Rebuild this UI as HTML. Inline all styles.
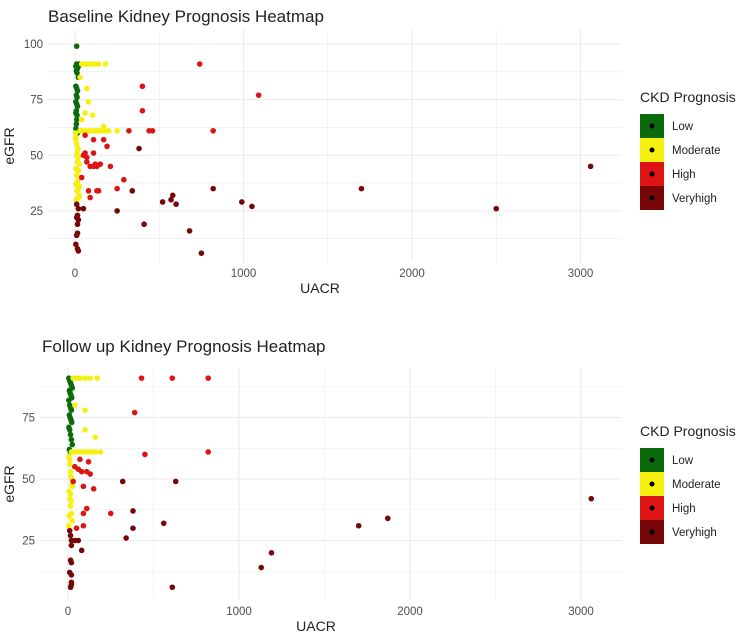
<!DOCTYPE html>
<html><head><meta charset="utf-8"><style>
body{margin:0;background:#fff;width:750px;height:637px;overflow:hidden;font-family:"Liberation Sans",sans-serif}
svg{display:block}
</style></head><body>
<svg id="chart" width="750" height="637"></svg>
<script>
const categories=["Low","Moderate","High","Veryhigh"];
const colors={Low:"#0b6b0b",Moderate:"#f5f00f",High:"#dd1414",Veryhigh:"#770606"};
const baseLowX=[10,10,5,15,8,12,20,5,10,15,8,12,5,10,15,8,5,12,10,8,5,12,15,20,25];
const baseLowY=[99,91,90,89,88,87,85,81,80,79,77,76,74,73,72,70,69,68,66,64,62,61,60,90,91];
const baseModX=[40,60,80,100,120,140,180,30,70,80,60,105,40,30,40,60,80,100,120,140,160,180,200,250,170,5,10,15,20,25,5,10,15,20,25,5,10,15,20,25,5,12,22,8,18,25,3];
const baseModY=[91,91,91,91,91,91,91,85,80,74,69,68,66,61,61,61,61,61,61,61,61,61,61,61,63,58,55,52,49,46,44,41,38,35,32,57,50,47,43,40,37,34,31,30,53,36,60];
const baseHighX=[740,400,1090,400,320,440,460,820,60,110,170,190,60,110,50,70,70,90,110,130,150,120,40,290,80,130,140,250,90,210];
const baseHighY=[91,81,77,70,61,61,61,61,59,57,57,54,51,51,50,49,47,45,45,45,46,46,40,39,34,34,34,35,31,45];
const baseVhX=[380,340,820,1700,580,570,520,600,990,1050,250,10,20,50,15,10,20,15,410,680,15,10,5,15,20,750,2500,3060];
const baseVhY=[53,34,35,35,32,30,29,28,29,27,25,28,26,26,23,22,21,19,19,16,15,14,10,8,7,6,26,45];
const fuLowX=[5,10,15,20,25,8,12,18,22,5,10,15,20,8,12,18,22,5,10,15,20,25,8,14];
const fuLowY=[91,90,89,88,87,86,85,84,83,82,80,79,78,76,75,74,73,71,70,68,66,64,62,61];
const fuModX=[30,50,70,100,130,170,40,100,100,160,20,40,60,80,100,120,140,160,190,5,10,15,20,25,5,10,15,20,25,5,10,15,20,25,8,18];
const fuModY=[91,91,91,91,91,91,80,78,70,67,61,61,61,61,61,61,61,61,61,59,56,53,50,47,45,42,39,36,33,31,58,44,41,48,35,51];
const fuHighX=[430,610,820,390,450,820,70,120,40,60,80,110,130,30,90,150,110,90,250,90,50];
const fuHighY=[91,91,91,77,60,61,58,57,55,54,53,53,52,49,47,46,38,36,36,31,30];
const fuVhX=[320,630,380,560,380,340,1700,1870,3060,1190,1130,610,10,15,20,40,60,20,80,15,20,10,20,20,20,15];
const fuVhY=[49,49,37,32,30,26,31,34,42,20,14,6,29,27,25,25,25,23,21,17,16,12,11,8,7,6];
const xTicks=[0,1000,2000,3000];
const baseYTicks=[25,50,75,100];
const fuYTicks=[25,50,75];

const svg=document.getElementById('chart');
const NS="http://www.w3.org/2000/svg";
function el(tag,attrs,parent){const e=document.createElementNS(NS,tag);for(const k in attrs)e.setAttribute(k,attrs[k]);(parent||svg).appendChild(e);return e;}

function panel(cfg){
  const g=el('g',{});
  
  
  const sx=v=>cfg.x0+v*cfg.xk, sy=v=>cfg.y0-v*cfg.yk;
  for(let v=-500;v<=3250;v+=500){const px=sx(v);if(px<cfg.left||px>cfg.right)continue;
    const l=el('line',{x1:px,x2:px,y1:cfg.top,y2:cfg.bottom,stroke:'#ebebeb','stroke-width':v%1000===0?1.1:0.6},g);
    }
  for(let v=0;v<=105;v+=12.5){const py=sy(v);if(py<cfg.top||py>cfg.bottom)continue;
    const l=el('line',{x1:cfg.left,x2:cfg.right,y1:py,y2:py,stroke:'#ebebeb','stroke-width':v%25===0?1.1:0.6},g);
    }
  xTicks.forEach(v=>{const t=el('text',{x:sx(v),y:cfg.bottom+15,'text-anchor':'middle','font-size':11.5,fill:'#4d4d4d'},g);t.textContent=v;
    });
  cfg.yTicks.forEach(v=>{const t=el('text',{x:cfg.left-5,y:sy(v)+4,'text-anchor':'end','font-size':11.5,fill:'#4d4d4d'},g);t.textContent=v;
    });
  const xt=el('text',{x:(cfg.left+cfg.right)/2-15,y:cfg.bottom+31,'text-anchor':'middle','font-size':14,fill:'#222'},g);xt.textContent='UACR';
  
  const yt=el('text',{x:0,y:0,'text-anchor':'middle','font-size':14,fill:'#222',transform:`translate(14,${(cfg.top+cfg.bottom)/2}) rotate(-90)`},g);yt.textContent='eGFR';
  
  const ti=el('text',{x:cfg.titleX,y:cfg.titleY,'font-size':17,fill:'#222'},g);ti.textContent=cfg.title;
  
  cfg.series.forEach(([cat,xs,ys])=>{xs.forEach((x,i)=>{
    const c=el('circle',{cx:sx(x),cy:sy(ys[i]),r:2.8,fill:colors[cat]},g);
    
    
  });});
  const lt=el('text',{x:cfg.legX,y:cfg.legY,'font-size':14,fill:'#222'},g);lt.textContent='CKD Prognosis';
  
  categories.forEach((c,i)=>{
    const y=cfg.legY+12+i*24;
    const r=el('rect',{x:cfg.legX,y:y,width:24,height:24,fill:colors[c]},g);
    
    el('circle',{cx:cfg.legX+12,cy:y+12,r:2.5,fill:'#000'},g);
    const t=el('text',{x:cfg.legX+32,y:y+16,'font-size':11.5,fill:'#222'},g);t.textContent=c;
    
  });
}
panel({name:'baseline-panel',title:'Baseline Kidney Prognosis Heatmap',titleX:48,titleY:22,left:48,right:622,top:30,bottom:262,
  x0:75,xk:0.1685,y0:266.5,yk:2.225,yTicks:baseYTicks,legX:640,legY:102,
  series:[['Low',baseLowX,baseLowY],['Moderate',baseModX,baseModY],['High',baseHighX,baseHighY],['Veryhigh',baseVhX,baseVhY]]});
panel({name:'followup-panel',title:'Follow up Kidney Prognosis Heatmap',titleX:42,titleY:352,left:40,right:622,top:368,bottom:600,
  x0:68,xk:0.171,y0:602,yk:2.46,yTicks:fuYTicks,legX:640,legY:436,
  series:[['Low',fuLowX,fuLowY],['Moderate',fuModX,fuModY],['High',fuHighX,fuHighY],['Veryhigh',fuVhX,fuVhY]]});
</script>
</body></html>
